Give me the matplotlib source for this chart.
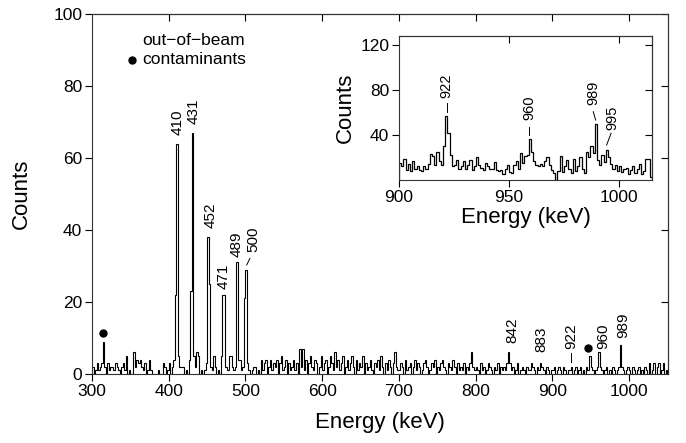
import numpy as np
import matplotlib
matplotlib.use("Agg")
import matplotlib.pyplot as plt

plt.rcParams['font.family'] = ['Liberation Sans', 'DejaVu Sans']

# main spectrum, 2 keV bins starting at 300 keV
main_start = 300
main_bin = 2
main_counts = [
    2, 0, 1, 3, 1, 2, 3, 9, 2, 0, 3, 1, 2, 2, 1, 3, 2, 1, 0, 2, 3, 1, 5,
    0, 1, 0, 0,
    6, 2, 4, 3, 4, 2, 1, 3, 0, 1, 4, 1, 0,
    0, 0, 0, 1, 0, 0, 3, 2, 0, 1,
    3, 0, 2, 4, 22,
    64, 5, 2, 2, 2, 0, 1, 0, 4, 23, 67, 5, 2, 6, 5, 0, 1, 0, 1, 3,
    38, 25, 2, 1, 5, 2, 0, 1, 0, 5, 22, 22, 2, 1, 5, 5, 2, 1, 2, 31,
    4, 4, 1, 2, 21, 29, 3,
    1, 0, 1, 2, 2, 0, 1, 0,
    4, 1, 3, 4, 0, 2, 4, 1, 3, 2, 4, 0, 3, 5, 1, 2, 4, 0, 3, 1,
    2, 4, 1, 3, 0, 7, 2, 7, 1, 4, 0, 3, 5, 2, 1, 4, 3, 0, 2, 5,
    1, 3, 4, 0, 2, 5, 3, 1, 6, 2, 4, 1, 3, 5, 0, 2, 4, 1, 3, 5,
    2, 0, 4, 1, 3, 2, 5, 0, 3, 1, 2, 4, 1, 0, 3, 2, 4, 1, 5, 2,
    0, 3, 1, 4, 2, 0, 3, 6, 2, 1,
    1, 3, 2, 0, 4, 1, 2, 3, 0, 2, 4, 1, 3, 2, 0, 1, 3, 4, 2, 0,
    1, 3, 2, 4, 0, 2, 1, 3, 4, 2, 1, 0, 3, 2, 1, 4, 2, 0, 3, 1,
    2, 1, 3, 0, 2, 1, 3, 6, 2, 1,
    2, 1, 0, 3, 1, 2, 0, 1, 3, 2, 1, 0, 2, 1, 3, 0, 2, 1, 2, 1,
    3, 6, 3, 1, 2, 0, 1, 3, 0, 1, 2, 1, 0, 2, 1, 1, 3, 2, 1, 0,
    2, 1, 3, 2, 1, 0, 2, 1, 0, 1,
    1, 2, 0, 1, 2, 1, 0, 2, 1, 0, 1, 1, 2, 0, 1, 2, 0, 1, 2, 0, 1, 0, 2, 1, 5,
    2, 1, 0, 1, 2, 6, 2, 1, 0, 1, 2, 0, 1, 0, 2, 1, 0, 1, 2, 8, 2, 1, 0, 1, 2,
    1, 0, 2, 1, 0, 1, 2, 0, 1, 0, 2, 1, 0, 3, 0, 1, 3, 0, 2, 3, 0, 1, 3, 0, 1,
]

# inset spectrum, 1 keV bins starting at 900 keV
inset_start = 900
inset_bin = 1
inset_counts = [
    15, 12, 19, 9, 14, 8, 17, 10, 12, 9,
    8, 12, 10, 14, 23, 21, 13, 25, 17, 13,
    30, 57, 42, 22, 12, 13, 18, 10, 12, 17,
    10, 13, 18, 9, 12, 20, 13, 11, 9, 15,
    12, 10, 10, 16, 9, 8, 9, 5, 10, 13,
    7, 6, 13, 17, 10, 24, 15, 21, 22, 36,
    25, 17, 13, 12, 14, 12, 17, 20, 13, 9,
    6, 0, 8, 21, 7, 12, 18, 10, 6, 19,
    8, 12, 20, 10, 6, 25, 20, 30, 24, 50,
    18, 13, 22, 16, 27, 20, 14, 10, 13, 8,
    12, 7, 10, 11, 5, 9, 12, 6, 10, 14,
    5, 8, 19, 19, 3,
]

# peak labels in main plot: text, x, y of label bottom
main_labels = ["410", "431", "452", "471", "489", "500", "842", "883", "922", "960", "989"]
main_label_x = [411, 433, 455, 472, 488, 511, 848, 886, 925, 966, 993]
main_label_y = [66.5, 69.5, 40.5, 23.5, 32.5, 34, 8.5, 6, 7, 7, 10]
# contaminant dots
dot_x = [315, 947]
dot_y = [11.3, 7.1]

inset_labels = ["922", "960", "989", "995"]
inset_label_x = [921.7, 959.3, 988.3, 997.1]
inset_label_y = [73, 53, 67, 44]

fig = plt.figure(figsize=(6.86, 4.43), dpi=100)
ax = fig.add_axes([0.1341, 0.1558, 0.8397, 0.8126])

edges = main_start + main_bin * np.arange(len(main_counts) + 1)
ax.stairs(main_counts, edges, color="black", lw=0.8, baseline=0)
ax.set_xlim(300, 1051)
ax.set_ylim(0, 100)
ax.set_xticks(range(300, 1001, 100))
ax.set_yticks(range(0, 101, 20))
ax.tick_params(direction="out", length=5, width=0.8, labelsize=12.5, pad=2)
for s in ax.spines.values():
    s.set_linewidth(0.8)
    s.set_color("#333333")

top = ax.secondary_xaxis("top")
top.set_xticks(range(400, 1001, 100))
top.tick_params(direction="in", length=5, width=0.8, labeltop=False)
right = ax.secondary_yaxis("right")
right.set_yticks(range(20, 101, 20))
right.tick_params(direction="in", length=5, width=0.8, labelright=False)

ax.set_xlabel("Energy (keV)", fontsize=16)
ax.set_ylabel("Counts", fontsize=16)
ax.xaxis.set_label_coords(0.5, -0.105)
ax.yaxis.set_label_coords(-0.104, 0.5)

for t, x, y in zip(main_labels, main_label_x, main_label_y):
    ax.text(x, y, t, rotation=90, ha="center", va="bottom", fontsize=11)
ax.plot([501.7, 505.9], [30.3, 32.1], color="black", lw=0.7)
ax.plot([924, 924], [3.3, 5.8], color="black", lw=0.7)
ax.plot(dot_x, dot_y, "o", color="black", ms=5)

ax.plot([352], [87.2], "o", color="black", ms=5)
ax.text(366, 92.6, "out\u2212of\u2212beam", fontsize=12.5, va="center")
ax.text(366, 87.4, "contaminants", fontsize=12.5, va="center")

# inset
ins = fig.add_axes([0.5816, 0.5937, 0.3688, 0.3251])
ins.set_facecolor("white")
iedges = inset_start + inset_bin * np.arange(len(inset_counts) + 1)
ins.stairs(inset_counts, iedges, color="black", lw=0.9, baseline=0)
ins.set_xlim(900, 1015)
ins.set_ylim(0, 128)
ins.set_xticks([900, 950, 1000])
ins.set_yticks([40, 80, 120])
ins.tick_params(direction="out", length=5, width=0.8, labelsize=12.5, pad=2)
for s in ins.spines.values():
    s.set_linewidth(0.8)
    s.set_color("#333333")
itop = ins.secondary_xaxis("top")
itop.set_xticks([950, 1000])
itop.tick_params(direction="in", length=5, width=0.8, labeltop=False)
iright = ins.secondary_yaxis("right")
iright.set_yticks([40, 80, 120])
iright.tick_params(direction="in", length=5, width=0.8, labelright=False)
ins.set_xlabel("Energy (keV)", fontsize=16)
ins.set_ylabel("Counts", fontsize=16)
ins.xaxis.set_label_coords(0.5, -0.185)
ins.yaxis.set_label_coords(-0.17, 0.5)

for t, x, y in zip(inset_labels, inset_label_x, inset_label_y):
    ins.text(x, y, t, rotation=90, ha="center", va="bottom", fontsize=10.5)
ins.plot([921.7, 921.7], [60.4, 68.4], color="black", lw=0.7)
ins.plot([959.3, 959.3], [40, 47], color="black", lw=0.7)
ins.plot([988.3, 989.4], [60.7, 53.3], color="black", lw=0.7)
ins.plot([996.4, 994.4], [41.5, 31.1], color="black", lw=0.7)

fig.savefig("out.png", dpi=100)
